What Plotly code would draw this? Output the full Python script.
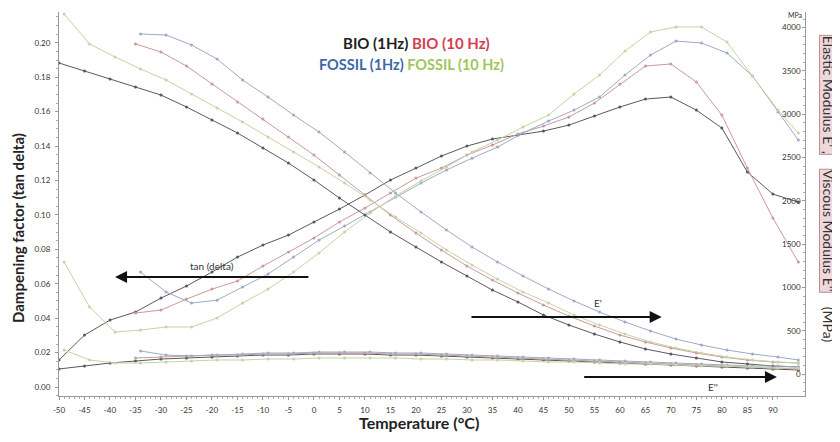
import plotly.graph_objects as go

# ---------------- data ----------------
temp_bio1 = list(range(-50, 100, 5))                 # BIO (1Hz)
temp_bio10 = list(range(-35, 100, 5))                # BIO (10 Hz)
temp_fos1 = list(range(-34, 95, 5)) + [95]           # FOSSIL (1Hz)
temp_fos10 = list(range(-49, 95, 5)) + [95]          # FOSSIL (10 Hz)

tan_bio1 = [0.0157, 0.0302, 0.0389, 0.0436, 0.0517, 0.0587, 0.0668, 0.0755, 0.0825, 0.0883,
            0.0959, 0.1034, 0.1116, 0.1203, 0.1272, 0.1342, 0.1400, 0.1441, 0.1464, 0.1487,
            0.1522, 0.1575, 0.1627, 0.1673, 0.1685, 0.1609, 0.1505, 0.1249, 0.1121, 0.1075]
tan_bio10 = [0.0430, 0.0447, 0.0511, 0.0569, 0.0616, 0.0703, 0.0784, 0.0866, 0.0959, 0.1040,
             0.1127, 0.1214, 0.1272, 0.1348, 0.1406, 0.1470, 0.1516, 0.1569, 0.1650, 0.1760,
             0.1865, 0.1877, 0.1772, 0.1580, 0.1272, 0.0982, 0.0726]
tan_fos1 = [0.0668, 0.0552, 0.0488, 0.0505, 0.0581, 0.0657, 0.0755, 0.0854, 0.0935, 0.1017,
            0.1104, 0.1185, 0.1261, 0.1330, 0.1394, 0.1476, 0.1545, 0.1609, 0.1685, 0.1813,
            0.1929, 0.2010, 0.1999, 0.1941, 0.1807, 0.1598, 0.1435]
tan_fos10 = [0.0726, 0.0465, 0.0320, 0.0331, 0.0349, 0.0349, 0.0401, 0.0488, 0.0569, 0.0668,
             0.0779, 0.0901, 0.1011, 0.1110, 0.1197, 0.1278, 0.1365, 0.1435, 0.1511, 0.1580,
             0.1702, 0.1813, 0.1952, 0.2063, 0.2092, 0.2092, 0.2004, 0.1807, 0.1609, 0.1476]

e1_bio1 = [3592, 3500, 3407, 3315, 3222, 3084, 2934, 2784, 2610, 2437, 2241, 2033, 1836, 1640, 1467,
           1294, 1132, 970, 832, 682, 566, 462, 370, 289, 231, 185, 139, 116, 92, 81]
e1_bio10 = [3812, 3719, 3557, 3350, 3142, 2945, 2737, 2529, 2298, 2067, 1836, 1628, 1432, 1247,
            1086, 936, 797, 670, 554, 450, 370, 300, 243, 196, 162, 139, 127]
e1_fos1 = [3927, 3915, 3800, 3638, 3396, 3199, 2991, 2795, 2564, 2322, 2091, 1871, 1663, 1467,
           1294, 1132, 982, 843, 716, 601, 497, 404, 335, 277, 231, 196, 162]
e1_fos10 = [4158, 3812, 3661, 3523, 3396, 3234, 3072, 2911, 2737, 2564, 2391, 2206, 2010, 1813, 1628,
            1432, 1259, 1097, 947, 820, 682, 566, 462, 370, 300, 243, 196, 162, 139, 127]

e2_bio1 = [58, 92, 127, 150, 173, 185, 196, 208, 219, 219, 231, 231, 231, 219, 219,
           208, 196, 185, 173, 162, 150, 139, 127, 116, 104, 92, 81, 69, 58, 46]
e2_bio10 = [185, 196, 208, 219, 219, 231, 231, 243, 243, 243, 231, 231, 219, 208,
            196, 185, 173, 162, 150, 139, 127, 116, 104, 92, 81, 69, 58]
e2_fos1 = [266, 219, 208, 219, 231, 243, 243, 254, 254, 254, 243, 243, 231, 219,
           208, 196, 185, 173, 162, 150, 139, 127, 116, 104, 92, 92, 81]
e2_fos10 = [277, 162, 127, 127, 139, 150, 162, 162, 173, 173, 185, 185, 185, 185, 173,
            173, 162, 162, 150, 139, 139, 127, 116, 116, 104, 92, 92, 81, 69, 69]

series_names = ["BIO (1Hz)", "BIO (10 Hz)", "FOSSIL (1Hz)", "FOSSIL (10 Hz)"]
line_colors = ["#5a5a5a", "#c99a9e", "#9eabc6", "#c6d3a6"]
legend_colors = ["#222222", "#d2404f", "#3f68a8", "#a2c45c"]

temps = [temp_bio1, temp_bio10, temp_fos1, temp_fos10]
tans = [tan_bio1, tan_bio10, tan_fos1, tan_fos10]
e1s = [e1_bio1, e1_bio10, e1_fos1, e1_fos10]
e2s = [e2_bio1, e2_bio10, e2_fos1, e2_fos10]

x_ticks = list(range(-50, 100, 5))
x_ticktext = [str(v) for v in range(-50, 95, 5)] + ["°C"]
left_ticks = [i * 0.02 for i in range(11)]
right_ticks = list(range(0, 4001, 500))

fig = go.Figure()

for name, col, t, tan, e1, e2 in zip(series_names, line_colors, temps, tans, e1s, e2s):
    common = dict(mode="lines+markers", line=dict(color=col, width=1),
                  marker=dict(color=col, size=3), showlegend=False, name=name)
    fig.add_trace(go.Scatter(x=t, y=e2, yaxis="y2", **common))
    fig.add_trace(go.Scatter(x=t, y=e1, yaxis="y2", **common))
    fig.add_trace(go.Scatter(x=t, y=tan, yaxis="y", **common))

tick_font = dict(family="Lato, Arial", size=8, color="#333")

# page has an 8px body margin; figure offset accordingly
fig.update_layout(
    width=832, height=434,
    margin=dict(l=51, r=35, t=4, b=46),
    paper_bgcolor="white", plot_bgcolor="white",
    font=dict(family="Lato, Arial", color="#222"),
    xaxis=dict(range=[-50, 96.3], tickvals=x_ticks, ticktext=x_ticktext, tickfont=tick_font,
               showline=True, linecolor="#999", linewidth=1, ticks="outside", ticklen=3,
               tickcolor="#999", showgrid=False, zeroline=False, ticklabelstandoff=3,
               minor=dict(dtick=1, ticks="outside", ticklen=2, tickcolor="#aaa")),
    yaxis=dict(range=[-0.0052, 0.2179], tickvals=left_ticks, tickformat=".2f", tickfont=tick_font,
               showline=True, linecolor="#999", linewidth=1, ticks="outside", ticklen=3,
               tickcolor="#999", showgrid=False, zeroline=False, ticklabelstandoff=3,
               minor=dict(dtick=0.005, ticks="outside", ticklen=2, tickcolor="#aaa")),
    yaxis2=dict(range=[-254, 4181], tickvals=right_ticks, tickfont=tick_font, overlaying="y",
                side="right", ticklabelposition="inside", showline=True, linecolor="#999",
                linewidth=1, ticks="inside", ticklen=3, tickcolor="#999", showgrid=False,
                zeroline=False,
                minor=dict(dtick=100, ticks="inside", ticklen=2, tickcolor="#aaa")),
)

# legend text
fig.add_annotation(xref="paper", yref="paper", x=0.479, y=0.919, showarrow=False,
                   xanchor="center", yanchor="middle",
                   text=f"<b><span style='color:{legend_colors[0]}'>BIO (1Hz)</span> "
                        f"<span style='color:{legend_colors[1]}'>BIO (10 Hz)</span></b>",
                   font=dict(family="Lato, Arial", size=15))
fig.add_annotation(xref="paper", yref="paper", x=0.472, y=0.862, showarrow=False,
                   xanchor="center", yanchor="middle",
                   text=f"<b><span style='color:{legend_colors[2]}'>FOSSIL (1Hz)</span> "
                        f"<span style='color:{legend_colors[3]}'>FOSSIL (10 Hz)</span></b>",
                   font=dict(family="Lato, Arial", size=14.5))

# axis titles
fig.add_annotation(xref="paper", yref="paper", x=-0.055, y=0.4375, showarrow=False,
                   textangle=-90, xanchor="center", yanchor="middle",
                   text="<b>Dampening factor (tan delta)</b>",
                   font=dict(family="Lato, Arial", size=15, color="#222"))
fig.add_annotation(xref="paper", yref="paper", x=0.4826, y=-0.068, showarrow=False,
                   xanchor="center", yanchor="middle",
                   text="<b>Temperature (°C)</b>",
                   font=dict(family="Lato, Arial", size=16, color="#222"))

# right axis title pieces
box = dict(bgcolor="#efd8db", bordercolor="#c08a92", borderwidth=1, borderpad=0)
rfont = dict(family="Lato, Arial", size=14, color="#333")
rt = dict(xref="paper", yref="paper", x=1.031, showarrow=False, textangle=90,
          xanchor="center", yanchor="middle", font=rfont)
fig.add_annotation(y=0.784, text="Elastic Modulus E' ,", **rt, **box)
fig.add_annotation(y=0.43, text="Viscous Modulus E''", **rt, **box)
fig.add_annotation(y=0.185, text="(MPa)", **rt)
fig.add_annotation(xref="paper", yref="paper", x=0.987, y=0.992, showarrow=False,
                   xanchor="center", yanchor="middle",
                   text="MPa", font=dict(family="Lato, Arial", size=7, color="#333"))

# arrows
arrow_style = dict(showarrow=True, arrowhead=2, arrowsize=1.2, arrowwidth=2, arrowcolor="#111",
                   text="")
fig.add_annotation(x=-39, y=0.0639, ax=-0.8, ay=0.0639, xref="x", yref="y", axref="x", ayref="y",
                   **arrow_style)
fig.add_annotation(x=-20, y=0.0705, xref="x", yref="y", showarrow=False, text="tan (delta)",
                   font=dict(family="Lato, Arial", size=10, color="#333"))
fig.add_annotation(x=68.2, y=658, ax=30.6, ay=658, xref="x", yref="y2", axref="x", ayref="y2",
                   **arrow_style)
fig.add_annotation(x=55.7, y=820, xref="x", yref="y2", showarrow=False, text="E'",
                   font=dict(family="Lato, Arial", size=10, color="#333"))
fig.add_annotation(x=90.8, y=-35, ax=52.7, ay=-35, xref="x", yref="y2", axref="x", ayref="y2",
                   **arrow_style)
fig.add_annotation(x=78.2, y=-150, xref="x", yref="y2", showarrow=False, text="E''",
                   font=dict(family="Lato, Arial", size=10, color="#333"))

fig.write_html("out.html")
